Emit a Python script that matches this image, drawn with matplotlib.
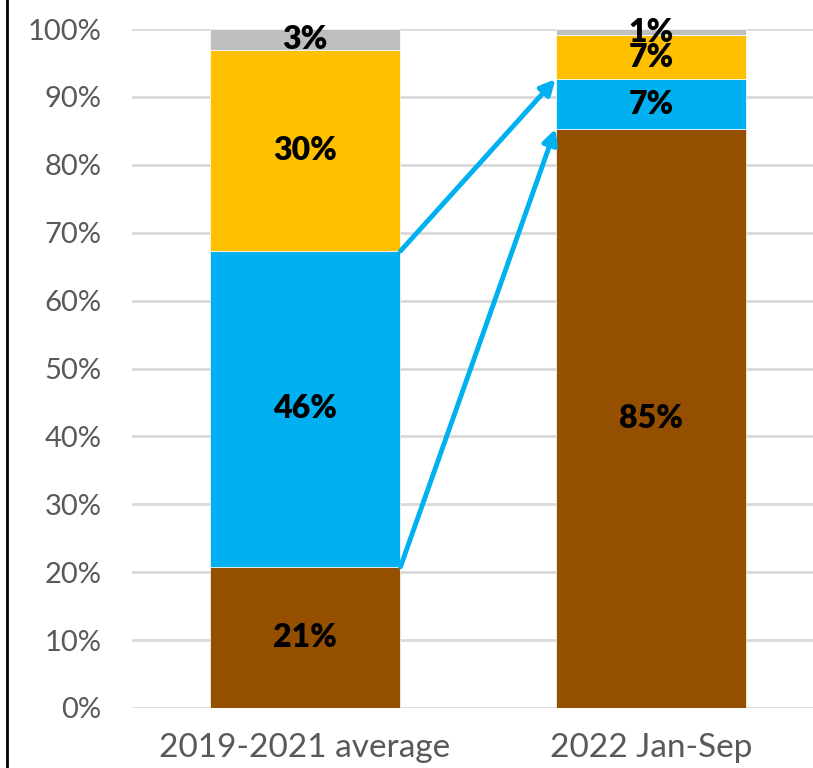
import numpy as np
import matplotlib.pyplot as plt
from matplotlib.lines import Line2D

plt.rcParams['font.family'] = ['Lato', 'DejaVu Sans']

categories = ['2019-2021 average', '2022 Jan-Sep']
brown = [20.8, 85.3]
blue = [46.5, 7.3]
yellow = [29.6, 6.5]
grey = [3.1, 0.9]
labels = [['21%', '85%'], ['46%', '7%'], ['30%', '7%'], ['3%', '1%']]

series = [brown, blue, yellow, grey]
colors = ['#954F00', '#00B0F0', '#FFC000', '#BFBFBF']

fig = plt.figure(figsize=(8.13, 7.68), dpi=100)
ax = fig.add_axes([132 / 813, 60 / 768, 692 / 813, 679 / 768])

x = np.arange(len(categories))
width = 0.552
bottom = np.zeros(len(categories))
for vals, col, labs in zip(series, colors, labels):
    vals = np.array(vals)
    ax.bar(x, vals, width, bottom=bottom, color=col, edgecolor='white',
           linewidth=0.5, zorder=2)
    for xi, v, b, t in zip(x, vals, bottom, labs):
        ax.text(xi, b + v / 2, t, ha='center', va='center', fontsize=23,
                fontweight='heavy', color='black', zorder=4)
    bottom = bottom + vals

# arrows from bar 1 segment tops to bar 2 segment tops
edge = width / 2
arrow_props = dict(arrowstyle='-|>', color='#00B0F0', lw=3.5,
                   mutation_scale=22, shrinkA=0, shrinkB=0)
ax.annotate('', xy=(1 - edge, brown[1] + blue[1]),
            xytext=(edge, brown[0] + blue[0]), arrowprops=arrow_props, zorder=3)
ax.annotate('', xy=(1 - edge, brown[1]),
            xytext=(edge, brown[0]), arrowprops=arrow_props, zorder=3)

ax.set_xlim(-0.5, 1.5)
ax.set_ylim(0, 100)
ax.set_yticks(np.arange(0, 101, 10))
ax.set_yticklabels([f'{v}%' for v in range(0, 101, 10)])
ax.set_xticks(x)
ax.set_xticklabels(categories)
ax.tick_params(axis='both', length=0, labelcolor='#595959')
ax.tick_params(axis='y', labelsize=21, pad=22)
ax.tick_params(axis='x', labelsize=24, pad=18)
ax.grid(axis='y', color='#D9D9D9', linewidth=2, zorder=0)
ax.set_axisbelow(True)
for s in ax.spines.values():
    s.set_visible(False)

fig.add_artist(Line2D([7 / 813, 7 / 813], [0, 1], color='black', linewidth=2,
                      transform=fig.transFigure))

fig.savefig('out.png', dpi=100)
